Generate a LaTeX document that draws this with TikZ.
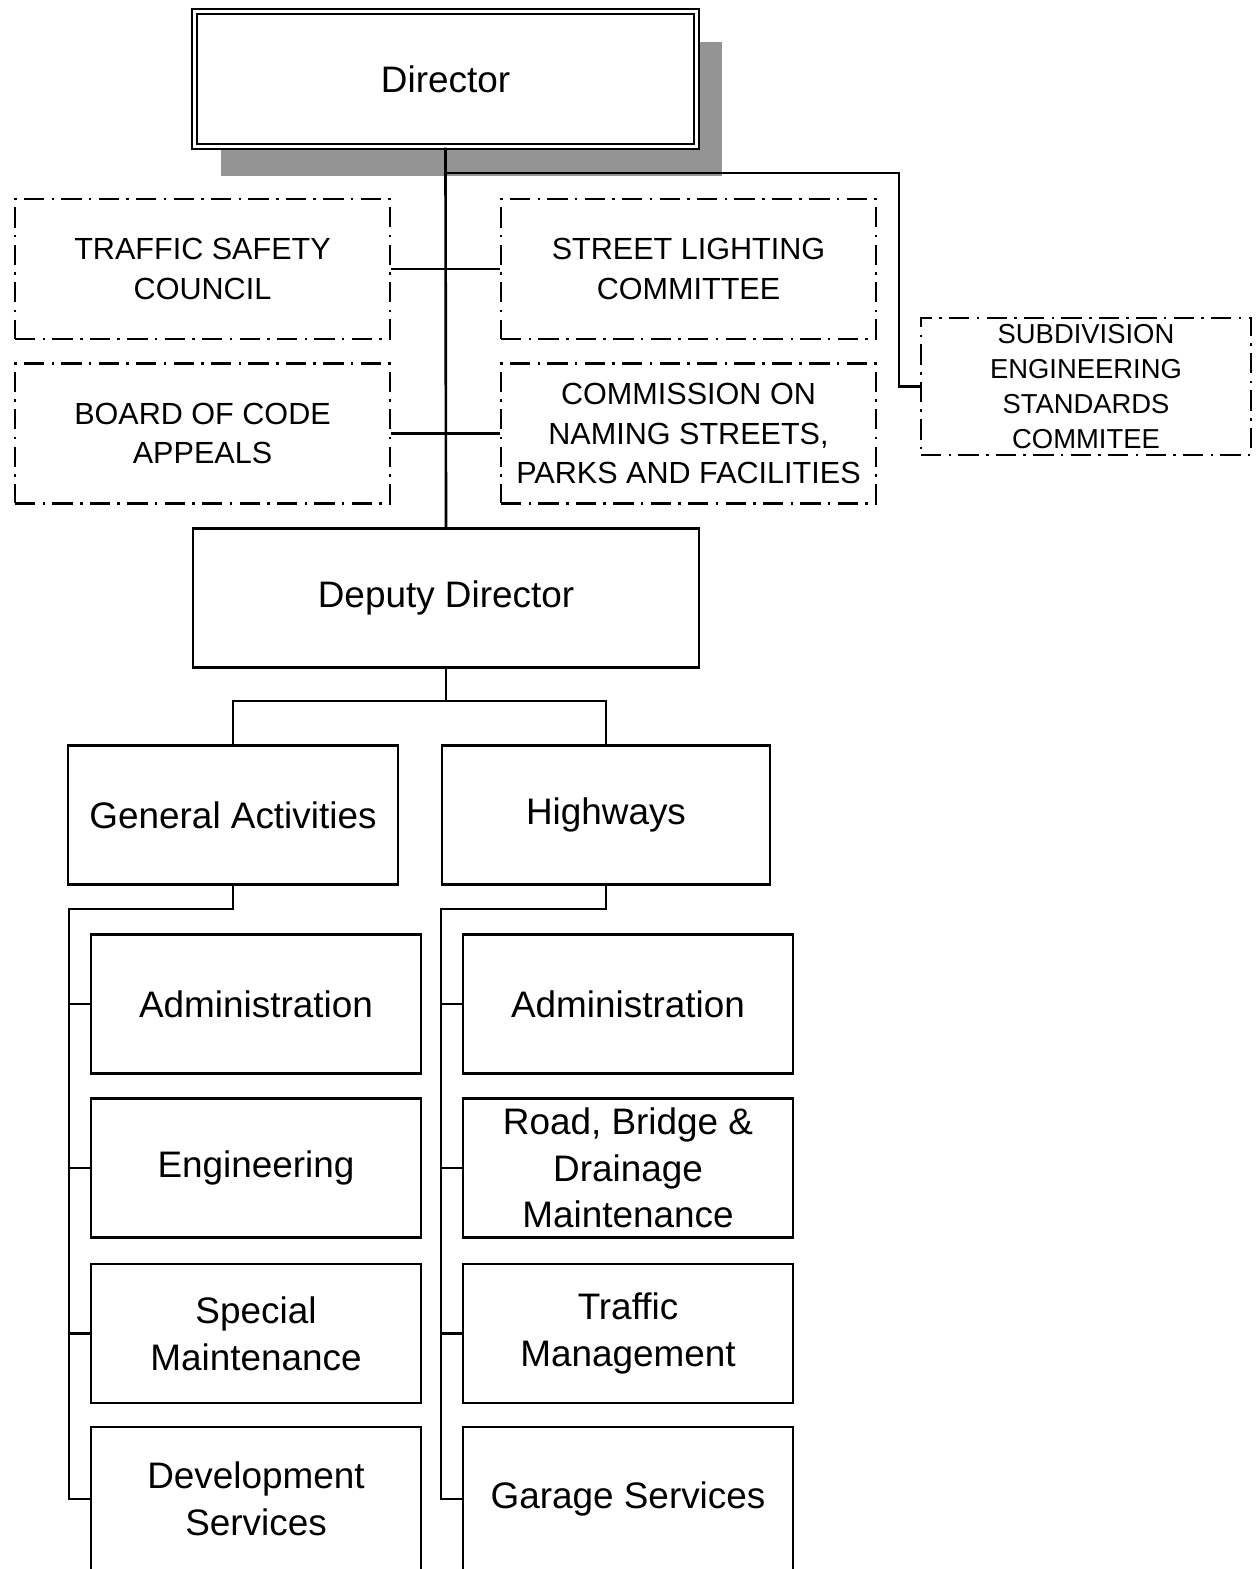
\documentclass[tikz,border=0pt]{standalone}
\usepackage{fontspec}
\setmainfont{Liberation Sans}
\usetikzlibrary{shadows}

\begin{document}
\begin{tikzpicture}[x=0.02cm,y=-0.02cm]
  \tikzstyle{head}  = [draw,double,line width=1.2pt,double distance=1.4pt,fill=white,
                       minimum width=10.04cm,minimum height=2.7cm,
                       font=\fontsize{21}{26.6}\selectfont,
                       drop shadow={shadow xshift=0.52cm,shadow yshift=-0.6cm,fill=black!42,opacity=1}]
  \tikzstyle{cmte}  = [draw,line width=1.4pt,dash pattern=on 11.5pt off 4.2pt on 1.4pt off 4.2pt,
                       minimum width=7.5cm,minimum height=2.8cm,align=center,
                       font=\fontsize{17.4}{22.5}\selectfont]
  \tikzstyle{cmteS} = [cmte,minimum width=6.6cm,minimum height=2.74cm,
                       font=\fontsize{15.6}{19.8}\selectfont]
  \tikzstyle{unit}  = [draw,line width=1.4pt,minimum width=6.6cm,minimum height=2.78cm,
                       align=center,font=\fontsize{21}{26.6}\selectfont]
  \tikzstyle{link}  = [line width=1.5pt]
  \useasboundingbox (0,0) rectangle (1259,1569);
  % Director and advisory bodies
  \path (445.5,  79) node[head](dir) {Director};
  \path (202.5, 269) node[cmte](tsc) {TRAFFIC SAFETY\\COUNCIL};
  \path (202.5,433.5) node[cmte](bca) {BOARD OF CODE\\APPEALS};
  \path (688.5, 269) node[cmte](slc) {STREET LIGHTING\\COMMITTEE};
  \path (688.5,433.5) node[cmte](cns) {COMMISSION ON\\NAMING STREETS,\\PARKS AND FACILITIES};
  \path (1086,386.5) node[cmteS](ses) {SUBDIVISION\\ENGINEERING\\STANDARDS\\COMMITEE};
  % Deputy and divisions
  \path (446,  598) node[unit,minimum width=10.12cm](dep) {Deputy Director};
  \path (233,  815) node[unit](gen) {General Activities};
  \path (606,  815) node[unit,minimum width=6.56cm](hwy) {Highways};
  % General Activities sections
  \path (256, 1004) node[unit](gadm) {Administration};
  \path (256, 1168) node[unit](geng) {Engineering};
  \path (256,1333.5) node[unit](gspm) {Special\\Maintenance};
  \path (256, 1499) node[unit,minimum height=2.88cm](gdev) {Development\\Services};
  % Highways sections
  \path (628, 1004) node[unit](hadm) {Administration};
  \path (628, 1168) node[unit](hrbd) {Road, Bridge \&\\Drainage\\Maintenance};
  \path (628,1333.5) node[unit](htrm) {Traffic\\Management};
  \path (628, 1499) node[unit,minimum height=2.88cm](hgar) {Garage Services};
  % connectors
  \coordinate (sj)   at (899, 173);
  \coordinate (dj)   at (446, 701);
  \coordinate (gbus) at (69,  909);
  \coordinate (hbus) at (441, 909);
  \draw[link] (dir.south) -- (dep.north);
  \draw[link] (sj -| dir.south) -- (sj) |- (ses.west);
  \draw[link] (tsc.east) -- (slc.west);
  \draw[link] (bca.east) -- (cns.west);
  \draw[link] (dep.south) -- (dj) -| (gen.north);
  \draw[link] (dj) -| (hwy.north);
  \draw[link] (gen.south) |- (gbus) |- (gdev.west);
  \draw[link] (hwy.south) |- (hbus) |- (hgar.west);
  \foreach \n in {gadm,geng,gspm}
    \draw[link] (\n.west) -- (\n.west -| gbus);
  \foreach \n in {hadm,hrbd,htrm}
    \draw[link] (\n.west) -- (\n.west -| hbus);
\end{tikzpicture}
\end{document}
